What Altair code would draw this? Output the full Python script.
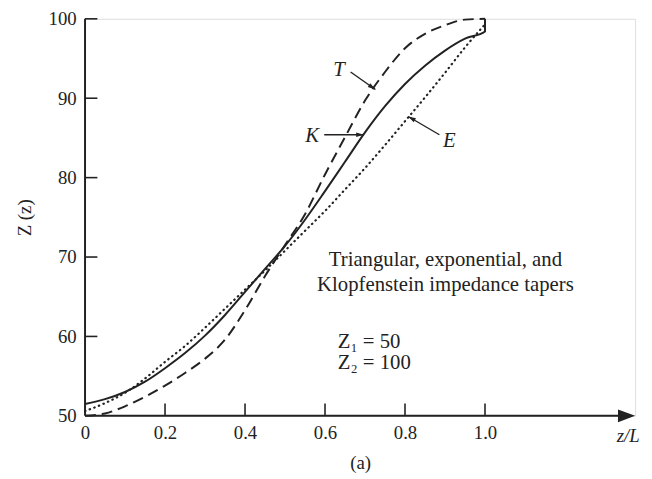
import altair as alt
import pandas as pd

# ---- data ----
x_pos = [0.0, 0.05, 0.1, 0.15, 0.2, 0.25, 0.3, 0.35, 0.4, 0.45, 0.5,
         0.55, 0.6, 0.65, 0.7, 0.75, 0.8, 0.85, 0.9, 0.95, 1.0]
z_triangular = [50.0, 50.3, 51.2, 52.4, 53.8, 55.4, 57.2, 59.6, 63.3, 67.6, 71.5,
                75.4, 80.4, 85.1, 89.7, 93.3, 96.3, 98.1, 99.2, 99.9, 100.0]
z_klopfenstein = [51.5, 52.1, 53.0, 54.3, 56.0, 57.9, 60.1, 62.7, 65.6, 68.5, 71.4,
                  74.7, 78.3, 82.0, 85.7, 89.0, 91.8, 94.1, 96.0, 97.5, 98.4]
k_end_x = [1.0]
k_end_z = [100.0]
z_exponential = [50.6, 51.6, 52.9, 54.7, 56.8, 58.8, 61.1, 63.5, 65.9, 68.3, 70.8,
                 73.3, 75.8, 78.5, 81.2, 84.1, 87.1, 90.1, 93.2, 96.4, 99.3]

x_ticks = [0, 0.2, 0.4, 0.6, 0.8, 1.0]
y_ticks = [50, 60, 70, 80, 90, 100]
y_tick_marks = [60, 70, 80, 90, 100]
x_tick_marks = [0.2, 0.4, 0.6, 0.8, 1.0]

curve_labels = ["T", "K", "E"]
label_x = [0.635, 0.568, 0.911]
label_z = [93.5, 85.2, 84.6]
arrow_x = [0.664, 0.598, 0.886]
arrow_z = [93.3, 85.4, 85.4]
arrow_tip_x = [0.726, 0.697, 0.808]
arrow_tip_z = [91.1, 85.4, 87.7]
arrow_angle = [34, 0, 210]

note_lines = ["Triangular, exponential, and", "Klopfenstein impedance tapers"]
note_x = [0.901, 0.901]
note_z = [69.6, 66.5]
param_lines = ["Z\u2081 = 50", "Z\u2082 = 100"]
param_x = [0.632, 0.632]
param_z = [59.3, 56.6]
xvar_text = ["z/L"]
xvar_x = [1.358]
xvar_z = [47.5]

# ---- build tables ----
W, H = 557, 402
X_MAX = 1.3753
ink = "#222222"
FONT = "Liberation Serif"

tri = pd.DataFrame({"x": x_pos, "z": z_triangular, "i": range(len(x_pos))})
klo = pd.DataFrame({"x": x_pos + k_end_x, "z": z_klopfenstein + k_end_z,
                    "i": range(len(x_pos) + len(k_end_x))})
exp_ = pd.DataFrame({"x": x_pos, "z": z_exponential, "i": range(len(x_pos))})

xs = alt.Scale(domain=[0, X_MAX], nice=False, zero=False)
ys = alt.Scale(domain=[50, 100], nice=False, zero=False)

x_axis = alt.Axis(values=x_ticks, domain=False, ticks=False, tickSize=0, grid=False,
                  labelExpr="datum.value == 0 ? '0' : format(datum.value, '.1f')",
                  labelFont=FONT, labelFontSize=19, labelColor=ink, labelPadding=8,
                  labelFlush=False, labelOverlap=False,
                  title="(a)", titleFont=FONT, titleFontSize=19, titleFontWeight="normal",
                  titleColor=ink, titlePadding=11)
y_axis = alt.Axis(values=y_ticks, domain=False, ticks=False, tickSize=0, grid=False,
                  labelFont=FONT, labelFontSize=19, labelColor=ink, labelPadding=9,
                  labelFlush=False, labelOverlap=False,
                  title="Z (z)", titleFont=FONT, titleFontSize=19, titleFontWeight="normal",
                  titleColor=ink, titlePadding=14)

X = lambda: alt.X("x:Q", scale=xs, axis=None)
Y = lambda: alt.Y("z:Q", scale=ys, axis=None)

t_line = alt.Chart(tri).mark_line(color=ink, strokeWidth=2, strokeDash=[11, 6],
                                  interpolate="monotone").encode(
    x=alt.X("x:Q", scale=xs, axis=x_axis), y=alt.Y("z:Q", scale=ys, axis=y_axis), order="i:Q")
k_line = alt.Chart(klo).mark_line(color=ink, strokeWidth=2, interpolate="monotone").encode(
    x=X(), y=Y(), order="i:Q")
e_line = alt.Chart(exp_).mark_line(color=ink, strokeWidth=2.2, strokeDash=[0.5, 4.5],
                                   strokeCap="round", interpolate="monotone").encode(
    x=X(), y=Y(), order="i:Q")

# axis lines (drawn, with arrow on z/L axis)
y_axis_line = alt.Chart(pd.DataFrame({"k": [0]})).mark_rule(color=ink, strokeWidth=2).encode(
    x=alt.value(0), y=alt.value(0), y2=alt.value(H))
x_axis_line = alt.Chart(pd.DataFrame({"k": [0]})).mark_rule(color=ink, strokeWidth=2).encode(
    x=alt.value(0), x2=alt.value(W - 8), y=alt.value(H))
x_arrow = alt.Chart(pd.DataFrame({"k": [0]})).mark_point(
    shape="M0,0L-2,-0.75L-2,0.75Z", filled=True, color=ink, opacity=1, size=300).encode(
    x=alt.value(W), y=alt.value(H))

# inward ticks
xt = alt.Chart(pd.DataFrame({"x": x_tick_marks})).mark_rule(color=ink, strokeWidth=1.6).encode(
    x=X(), y=alt.value(H), y2=alt.value(H - 12.5))
yt = alt.Chart(pd.DataFrame({"z": y_tick_marks})).mark_rule(color=ink, strokeWidth=1.6).encode(
    y=Y(), x=alt.value(0), x2=alt.value(12.5))

# curve labels and pointer arrows
lab_df = pd.DataFrame({"t": curve_labels, "x": label_x, "z": label_z})
arr_df = pd.DataFrame({"x": arrow_x, "z": arrow_z, "x2": arrow_tip_x, "z2": arrow_tip_z,
                       "a": arrow_angle})
labels = alt.Chart(lab_df).mark_text(font=FONT, fontSize=21, fontStyle="italic", color=ink,
                                     align="center", baseline="middle").encode(
    x=X(), y=Y(), text="t:N")
arrows = alt.Chart(arr_df).mark_rule(color=ink, strokeWidth=1.4).encode(
    x=X(), y=Y(), x2="x2:Q", y2="z2:Q")
heads = alt.Chart(arr_df).mark_point(shape="M0,0L-2,-0.6L-2,0.6Z", filled=True, color=ink,
                                     opacity=1, size=60).encode(
    x=alt.X("x2:Q", scale=xs, axis=None), y=alt.Y("z2:Q", scale=ys, axis=None),
    angle=alt.Angle("a:Q", scale=None))

notes = alt.Chart(pd.DataFrame({"t": note_lines, "x": note_x, "z": note_z})).mark_text(
    font=FONT, fontSize=21, color=ink, align="center", baseline="middle").encode(
    x=X(), y=Y(), text="t:N")
params = alt.Chart(pd.DataFrame({"t": param_lines, "x": param_x, "z": param_z})).mark_text(
    font=FONT, fontSize=21, color=ink, align="left", baseline="middle").encode(
    x=X(), y=Y(), text="t:N")
xvar = alt.Chart(pd.DataFrame({"t": xvar_text, "x": xvar_x, "z": xvar_z})).mark_text(
    font=FONT, fontSize=19, fontStyle="italic", color=ink, align="center",
    baseline="middle").encode(x=X(), y=Y(), text="t:N")

chart = alt.layer(
    t_line, k_line, e_line, y_axis_line, x_axis_line, x_arrow, xt, yt,
    arrows, heads, labels, notes, params, xvar
).resolve_axis(x="independent", y="independent").properties(
    width=W, height=H,
    autosize=alt.AutoSizeParams(type="none"),
    padding={"left": 78, "top": 8, "right": 9, "bottom": 61},
).configure_view(stroke=None).configure(background="white")

chart.save("out.html", embed_options={"renderer": "svg", "actions": False})
